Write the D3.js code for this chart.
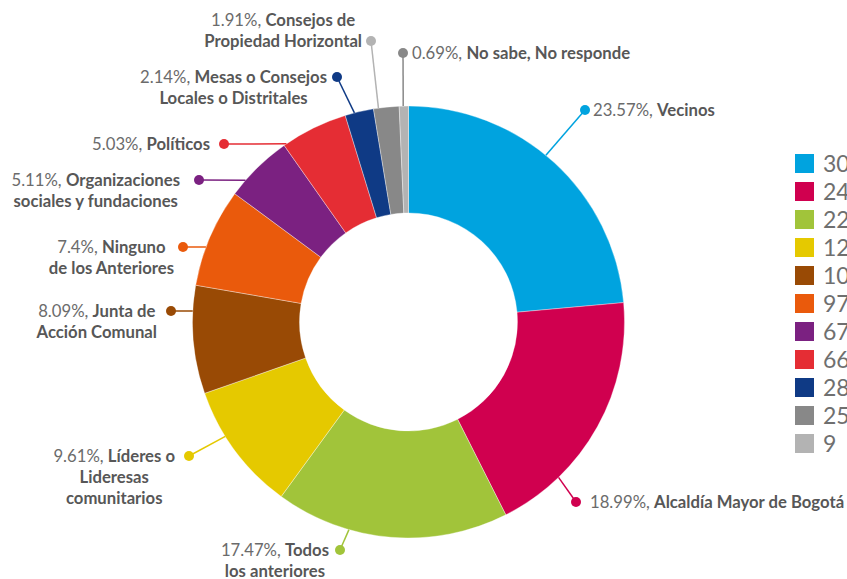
<!DOCTYPE html>
<html>
<head>
<meta charset="utf-8">
<style>
  body { margin: 0; background: #fff; overflow: hidden; }
  svg { display: block; font-family: Lato, "Open Sans", sans-serif; }
</style>
</head>
<body>
<svg id="chart" width="847" height="579"></svg>
<script src="https://d3js.org/d3.v7.min.js"></script>
<script>
// data
const categories = ["Vecinos", "Alcaldía Mayor de Bogotá", "Todos los anteriores",
  "Líderes o Lideresas comunitarios", "Junta de Acción Comunal", "Ninguno de los Anteriores",
  "Organizaciones sociales y fundaciones", "Políticos", "Mesas o Consejos Locales o Distritales",
  "Consejos de Propiedad Horizontal", "No sabe, No responde"];
const counts = [309, 249, 229, 126, 106, 97, 67, 66, 28, 25, 9];
const colors = ["#00a3df", "#d0004f", "#a1c43a", "#e5c900", "#994a05", "#ea5a0c",
  "#7b2181", "#e52d34", "#0f3a85", "#888888", "#b3b3b3"];
// the two grey callouts use each other's colour in the original
const leaderColors = colors.slice(0, 9).concat(["#b3b3b3", "#888888"]);

// how each callout name is broken in lines
const labelLines = [["Vecinos"], ["Alcaldía Mayor de Bogotá"], ["Todos", "los anteriores"],
  ["Líderes o", "Lideresas", "comunitarios"], ["Junta de", "Acción Comunal"],
  ["Ninguno", "de los Anteriores"], ["Organizaciones", "sociales y fundaciones"], ["Políticos"],
  ["Mesas o Consejos", "Locales o Distritales"], ["Consejos de", "Propiedad Horizontal"],
  ["No sabe, No responde"]];

// callout layout: dot position, angle where the leader meets the ring, text edge
const callouts = [
  { x: 585, y: 110, hit: 39.5, side: "right", edge: 593, dotLine: 0 },
  { x: 576, y: 502, hit: 136, side: "right", edge: 590, dotLine: 0 },
  { x: 340, y: 550, hit: 196, side: "left", edge: 329, dotLine: 0 },
  { x: 189, y: 456, hit: 238, side: "left", edge: 175, dotLine: 0 },
  { x: 171, y: 311, hit: 272.9, side: "left", edge: 157, dotLine: 0 },
  { x: 183, y: 247, hit: 290.3, side: "left", edge: 174, dotLine: 0 },
  { x: 199, y: 180, hit: 311, side: "left", edge: 180, dotLine: 0 },
  { x: 224, y: 144, hit: 325.6, side: "left", edge: 210, dotLine: 0 },
  { x: 337, y: 77, hit: 345.5, side: "left", edge: 327, dotLine: 0 },
  { x: 371, y: 41, hit: 352, side: "left", edge: 362, dotLine: 1 },
  { x: 403, y: 53, hit: 358.6, side: "right", edge: 412, dotLine: 0 }
];

const svg = d3.select("#chart");
const cx = 408.5, cy = 322, rOuter = 216, rInner = 109;
const total = d3.sum(counts);
const pctText = v => d3.format(".2f")(v / total * 100).replace(/\.?0+$/, "") + "%";

const pie = d3.pie().sort(null).value(d => d)(counts);
const arc = d3.arc().innerRadius(rInner).outerRadius(rOuter);

const g = svg.append("g").attr("transform", `translate(${cx},${cy})`);
g.selectAll("path")
  .data(pie)
  .join("path")
  .attr("d", arc)
  .attr("fill", (d, i) => colors[i])
  .attr("stroke", "#fff")
  .attr("stroke-opacity", 0.6)
  .attr("stroke-width", 0.6);

// leader lines + dots
const rad = a => a * Math.PI / 180;
callouts.forEach((c, i) => {
  const hx = cx + rOuter * Math.sin(rad(c.hit));
  const hy = cy - rOuter * Math.cos(rad(c.hit));
  svg.append("line")
    .attr("x1", c.x).attr("y1", c.y)
    .attr("x2", hx).attr("y2", hy)
    .attr("stroke", leaderColors[i])
    .attr("stroke-width", 1.5);
  svg.append("circle")
    .attr("cx", c.x).attr("cy", c.y).attr("r", 5)
    .attr("fill", leaderColors[i]);
});

// callout texts
const lineH = 21, fontSize = 16.7;
callouts.forEach((c, i) => {
  const lines = labelLines[i];
  const base0 = c.y + 5.5 - c.dotLine * lineH;
  const texts = lines.map((ln, k) => {
    const t = svg.append("text")
      .attr("y", base0 + k * lineH)
      .attr("font-size", fontSize);
    if (k === 0) {
      t.append("tspan").attr("fill", "#6b6b6b").text(pctText(counts[i]) + ", ");
    }
    t.append("tspan").attr("fill", "#575757").attr("font-weight", "bold").text(ln);
    return t;
  });
  if (c.side === "right") {
    texts.forEach(t => t.attr("x", c.edge).attr("text-anchor", "start"));
  } else {
    const w = d3.max(texts, t => t.node().getComputedTextLength());
    texts.forEach(t => t.attr("x", c.edge - w / 2).attr("text-anchor", "middle"));
  }
});

// legend (runs off the right edge, as in the original)
const legend = svg.append("g").attr("transform", "translate(795,154)");
counts.forEach((v, i) => {
  legend.append("rect")
    .attr("x", 0).attr("y", i * 28)
    .attr("width", 19).attr("height", 19)
    .attr("fill", colors[i]);
  legend.append("text")
    .attr("x", 28).attr("y", i * 28 + 17.5)
    .attr("font-size", 23)
    .attr("fill", "#6f6f6f")
    .text(v);
});
</script>
</body>
</html>
